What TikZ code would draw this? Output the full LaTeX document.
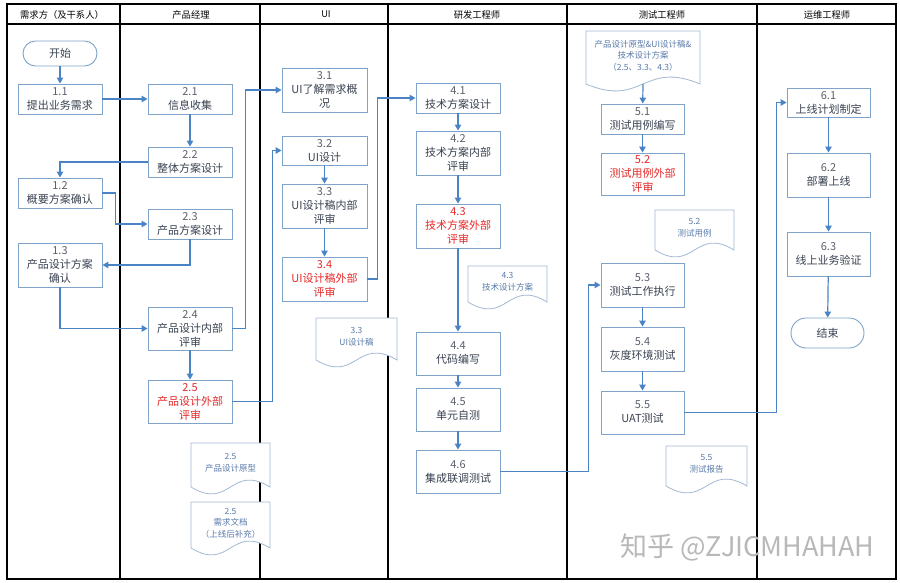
\documentclass[tikz,border=0pt]{standalone}
\usepackage{fontspec}
\setmainfont{Noto Sans CJK SC}
\usetikzlibrary{arrows.meta}
\definecolor{boxline}{HTML}{7FA3C9}
\definecolor{arrowc}{HTML}{4A84C4}
\definecolor{txt}{HTML}{3A4352}
\definecolor{numc}{HTML}{5A606B}
\definecolor{redc}{HTML}{E52A2A}
\definecolor{docline}{HTML}{A3B8D3}
\definecolor{doctxt}{HTML}{5A7BAA}
\newcommand\nmb[1]{{\color{numc}#1}}
\tikzset{
 proc/.style={draw=boxline, line width=0.9pt, fill=white, minimum width=84pt, minimum height=30pt, inner sep=0pt, align=center, text=txt, font=\fontsize{11}{14}\selectfont},
 tall/.style={minimum height=44pt},
 redtxt/.style={text=redc},
 term/.style={proc, rounded corners=12.5pt, minimum width=74pt, minimum height=25pt},
 arr/.style={draw=arrowc, line width=1.2pt, -{Triangle[length=6pt,width=6.5pt]}},
 lane/.style={line width=1.6pt},
 hdr/.style={font=\fontsize{9.3}{11}\selectfont, inner sep=0pt},
 doctext/.style={align=center, text=doctxt, font=\fontsize{8.5}{11.5}\selectfont, inner sep=0pt},
 docshape/.style={draw=docline, line width=0.8pt, fill=white},
}
\newcommand\docu[6]{%
 \path[docshape] (#2,#3) -- (#2+#4,#3) -- (#2+#4,#3+#5) .. controls (#2+#4/2,#3+#5-24) and (#2+#4/2,#3+#5+24) .. (#2,#3+#5) -- cycle;
 \node[doctext] (#1) at (#2+#4/2,#3+#5/2-2) {#6};}
\begin{document}
\begin{tikzpicture}[x=1pt,y=-1pt]
\useasboundingbox (0,0) rectangle (900,583);
% frame
\draw[lane] (7,4) rectangle (896,579);
\draw[lane] (7,24) -- (896,24);
\foreach \xx in {120,260,388,567,757} \draw[lane] (\xx,4) -- (\xx,579);
% headers
\node[hdr] (h1) at (62,14.5) {需求方（及干系人）};
\node[hdr] (h2) at (191,14.5) {产品经理};
\node[hdr] (h3) at (326,14.5) {UI};
\node[hdr] (h4) at (477,14.5) {研发工程师};
\node[hdr] (h5) at (662,14.5) {测试工程师};
\node[hdr] (h6) at (827,14.5) {运维工程师};
% documents
\docu{d25a}{191}{443}{79}{44}{2.5\\产品设计原型}
\docu{d25b}{191}{502}{79}{46}{2.5\\需求文档\\（上线后补充）}
\docu{d33}{316}{318}{81}{42}{3.3\\UI设计稿}
\docu{d43}{468}{266}{79}{36}{4.3\\技术设计方案}
\docu{d5top}{586}{31}{114}{53}{产品设计原型\&UI设计稿\&\\技术设计方案\\（2.5、3.3、4.3）}
\docu{d52}{655}{210}{79}{40}{5.2\\测试用例}
\docu{d55}{666}{446}{81}{40}{5.5\\测试报告}
\coordinate (d5b) at (643,84);
% lane 1
\node[term] (n00) at (60,53.5) {开始};
\node[proc] (n11) at (60,99) {\nmb{1.1}\\提出业务需求};
\node[proc] (n12) at (60,193) {\nmb{1.2}\\概要方案确认};
\node[proc,tall] (n13) at (60,265) {\nmb{1.3}\\产品设计方案\\确认};
% lane 2
\node[proc] (n21) at (190,99) {\nmb{2.1}\\信息收集};
\node[proc] (n22) at (190,162) {\nmb{2.2}\\整体方案设计};
\node[proc] (n23) at (190,224) {\nmb{2.3}\\产品方案设计};
\node[proc,minimum height=43pt] (n24) at (190,328.5) {\nmb{2.4}\\产品设计内部\\评审};
\node[proc,minimum height=43pt,redtxt] (n25) at (190,401.5) {2.5\\产品设计外部\\评审};
% lane 3
\node[proc,tall,minimum width=85pt] (n31) at (324.5,90) {\nmb{3.1}\\UI了解需求概\\况};
\node[proc,minimum width=85pt,minimum height=29pt] (n32) at (324.5,150.5) {\nmb{3.2}\\UI设计};
\node[proc,tall,minimum width=85pt] (n33) at (324.5,206) {\nmb{3.3}\\UI设计稿内部\\评审};
\node[proc,tall,minimum width=85pt,redtxt] (n34) at (324.5,279) {3.4\\UI设计稿外部\\评审};
% lane 4
\node[proc] (n41) at (458,98) {\nmb{4.1}\\技术方案设计};
\node[proc,tall] (n42) at (458,153) {\nmb{4.2}\\技术方案内部\\评审};
\node[proc,tall,redtxt] (n43) at (458,226) {4.3\\技术方案外部\\评审};
\node[proc,minimum height=43pt] (n44) at (458,353.5) {\nmb{4.4}\\代码编写};
\node[proc,minimum height=43pt] (n45) at (458,409.5) {\nmb{4.5}\\单元自测};
\node[proc,minimum height=43pt] (n46) at (458,471.5) {\nmb{4.6}\\集成联调测试};
% lane 5
\node[proc,minimum width=83pt] (n51) at (642.5,119) {\nmb{5.1}\\测试用例编写};
\node[proc,minimum width=83pt,minimum height=42pt,redtxt] (n52) at (642.5,174) {5.2\\测试用例外部\\评审};
\node[proc,tall,minimum width=83pt] (n53) at (642.5,285) {\nmb{5.3}\\测试工作执行};
\node[proc,tall,minimum width=83pt] (n54) at (642.5,349) {\nmb{5.4}\\灰度环境测试};
\node[proc,minimum width=83pt,minimum height=43pt] (n55) at (642.5,412.5) {\nmb{5.5}\\UAT测试};
% lane 6
\node[proc,minimum width=83pt,minimum height=29pt] (n61) at (828.5,102.5) {\nmb{6.1}\\上线计划制定};
\node[proc,tall,minimum width=83pt] (n62) at (828.5,175) {\nmb{6.2}\\部署上线};
\node[proc,tall,minimum width=83pt] (n63) at (828.5,254) {\nmb{6.3}\\线上业务验证};
\node[term,minimum width=73pt,minimum height=30pt,rounded corners=15pt] (n70) at (827.5,333) {结束};
% connectors
\draw[arr] (n00) -- (n11);
\draw[arr] (n11) -- (n21);
\draw[arr] (n21) -- (n22);
\draw[arr] (n22.west) -| (n12.north);
\draw[arr] (n12.east) -- ++(13,0) |- (n23.west);
\draw[arr] (n23.south) |- (n13.east);
\draw[arr] (n13.south) |- (n24.west);
\draw[arr] (n24) -- (n25);
\draw[arr] (n24.east) -- ++(13,0) |- (n31.west);
\draw[arr] (n25.east) -- ++(40,0) |- (n32.west);
\draw[arr] (n32) -- (n33);
\draw[arr] (n33) -- (n34);
\draw[arr] (n34.east) -- ++(10,0) |- (n41.west);
\draw[arr] (n41) -- (n42);
\draw[arr] (n42) -- (n43);
\draw[arr] (n43) -- (n44);
\draw[arr] (n44) -- (n45);
\draw[arr] (n45) -- (n46);
\draw[arr] (n46.east) -- ++(88,0) |- (n53.west);
\draw[arr] (d5b) -- (n51);
\draw[arr] (n51) -- (n52);
\draw[arr] (n53) -- (n54);
\draw[arr] (n54) -- (n55);
\draw[arr] (n55.east) -- ++(92,0) |- (n61.west);
\draw[arr] (n61) -- (n62);
\draw[arr] (n62) -- (n63);
\draw[arr] (n63) -- (n70);
% watermark
\node[font=\fontsize{27}{30}\selectfont, text=black!28, anchor=west, inner sep=0pt] (wm) at (620,547) {知乎 @ZJICMHAHAH};
\end{tikzpicture}
\end{document}
